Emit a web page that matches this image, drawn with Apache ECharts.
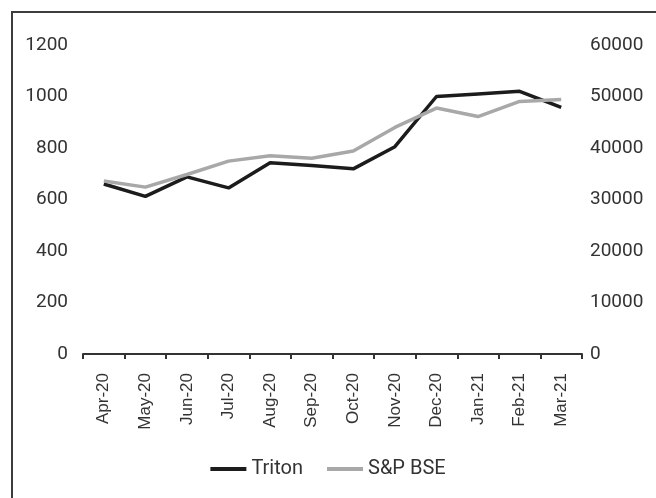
<!DOCTYPE html>
<html>
<head>
<meta charset="utf-8">
<script src="https://cdn.jsdelivr.net/npm/echarts@6/dist/echarts.min.js"></script>
<style>
  html, body {margin: 0; padding: 0; background: #fff; overflow: hidden;}
  #frame {position: absolute; left: 11px; top: 11px; width: 700px; height: 600px; border: 2px solid #3c3c3c;}
  #chart {position: absolute; left: 0; top: 0; width: 656px; height: 498px;}
</style>
</head>
<body>
<div id="frame"></div>
<div id="chart"></div>
<script>
const months = ['Apr-20', 'May-20', 'Jun-20', 'Jul-20', 'Aug-20', 'Sep-20', 'Oct-20', 'Nov-20', 'Dec-20', 'Jan-21', 'Feb-21', 'Mar-21']
const triton = [660, 612, 688, 645, 743, 732, 719, 805, 1000, 1010, 1020, 958]
const bse = [33600, 32400, 34850, 37450, 38500, 38000, 39400, 44000, 47750, 46100, 49050, 49400]

const chart = echarts.init(document.getElementById('chart'))
const plain = v => String(v)
chart.setOption({
  animation: false,
  grid: {left: 83, right: 74, top: 45, bottom: 144},
  legend: {
    bottom: 14,
    left: 'center',
    itemWidth: 36,
    itemHeight: 4,
    itemGap: 24,
    icon: 'rect',
    textStyle: {fontFamily: 'Roboto', fontSize: 20, color: '#333'},
    data: ['Triton', 'S&P BSE']
  },
  xAxis: {
    type: 'category',
    data: months,
    axisLine: {lineStyle: {color: '#333', width: 2}},
    axisTick: {show: true, length: 5, lineStyle: {color: '#333', width: 2}},
    axisLabel: {rotate: 90, margin: 19, fontFamily: 'Liberation Sans', fontSize: 17, color: '#333'}
  },
  yAxis: [
    {
      type: 'value', min: 0, max: 1200, interval: 200,
      splitLine: {show: false},
      axisLine: {show: false},
      axisTick: {show: false},
      axisLabel: {margin: 15, fontFamily: 'Roboto', fontSize: 19, color: '#333', formatter: plain}
    },
    {
      type: 'value', min: 0, max: 60000, interval: 10000,
      splitLine: {show: false},
      axisLine: {show: false},
      axisTick: {show: false},
      axisLabel: {margin: 8, fontFamily: 'Roboto', fontSize: 19, color: '#333', formatter: plain}
    }
  ],
  series: [
    {
      name: 'Triton', type: 'line', yAxisIndex: 0, data: triton,
      symbol: 'none', color: '#1c1c1c',
      lineStyle: {width: 3.5, color: '#1c1c1c'}
    },
    {
      name: 'S&P BSE', type: 'line', yAxisIndex: 1, data: bse,
      symbol: 'none', color: '#a8a8a8',
      lineStyle: {width: 3.5, color: '#a8a8a8'}
    }
  ]
})
</script>
</body>
</html>
